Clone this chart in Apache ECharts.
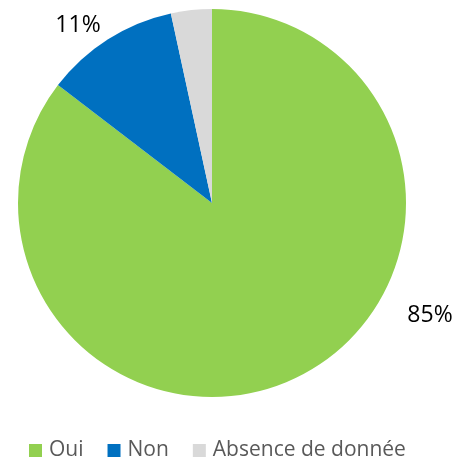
<!DOCTYPE html>
<html><head><meta charset="utf-8">
<script src="https://cdn.jsdelivr.net/npm/echarts@6/dist/echarts.min.js"></script>
<style>html,body{margin:0;padding:0;background:#fff}#c{width:454px;height:457px}</style>
</head><body><div id="c"></div>
<script>
const categories = ["Oui", "Non", "Absence de donnée"];
const values = [85.4, 11.2, 3.4];
const colors = ["#92D050", "#0070C0", "#D9D9D9"];
const showLabel = [true, true, false];

const chart = echarts.init(document.getElementById('c'));
chart.setOption({
  animation: false,
  color: colors,
  legend: {
    left: 29, top: 440, padding: 0,
    itemWidth: 13, itemHeight: 13, itemGap: 24,
    icon: 'rect',
    textStyle: { fontFamily: 'Open Sans', fontSize: 21, lineHeight: 20, color: '#595959', padding: [0,0,0,2] },
    data: categories
  },
  series: [{
    type: 'pie',
    center: [212, 203],
    radius: 194,
    startAngle: 90,
    clockwise: true,
    label: {
      show: true,
      position: 'outside',
      fontFamily: 'Open Sans', fontSize: 23, color: '#000',
      formatter: p => Math.round(p.value) + '%'
    },
    labelLine: { show: false },
    labelLayout: function (p) {
      if (p.dataIndex === 0) return { x: 430, y: 315, align: 'center', verticalAlign: 'middle' };
      if (p.dataIndex === 1) return { x: 78, y: 25, align: 'center', verticalAlign: 'middle' };
      return {};
    },
    itemStyle: { borderWidth: 0 },
    emphasis: { disabled: true },
    data: categories.map((n, i) => ({ name: n, value: values[i], label: { show: showLabel[i] } }))
  }]
});
</script></body></html>
